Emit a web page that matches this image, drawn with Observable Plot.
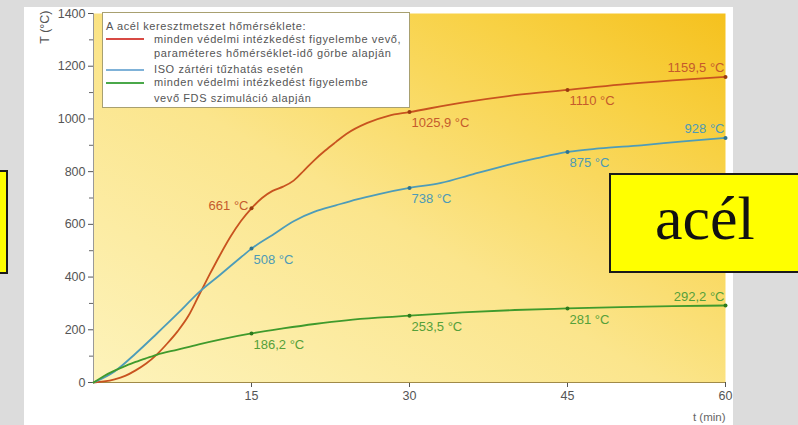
<!DOCTYPE html>
<html><head><meta charset="utf-8">
<script src="https://cdn.jsdelivr.net/npm/d3@7"></script>
<script src="https://cdn.jsdelivr.net/npm/@observablehq/plot@0.6"></script>
<style>
html,body{margin:0;padding:0;background:#dcdcdc;width:798px;height:425px;overflow:hidden;font-family:"Liberation Sans",Arial,sans-serif}
#panel{position:absolute;left:24px;top:7px;width:709px;height:418px;background:#fff}
#chart{position:absolute;left:0;top:0}
#legend{position:absolute;left:102px;top:12px;width:308px;height:96px;background:#fff;border:1px solid #a8a070;box-sizing:border-box;color:#555;font-size:11px;letter-spacing:0.6px}
#legend .t{position:absolute;left:51px;white-space:nowrap;line-height:14px}
#legend .sw{position:absolute;left:3px;width:38px;height:0;border-top:2px solid}
.box{position:absolute;background:#ffff00;border:2px solid #1a1a1a;box-sizing:border-box}
#acel{left:609px;top:173px;width:200px;height:100px;font-family:"Liberation Serif","Times New Roman",serif;font-size:62px;color:#111}
#acel span{position:absolute;left:44px;top:8px}
#leftbox{left:-4px;top:170px;width:12px;height:104px}
</style></head>
<body>
<div id="panel"></div>
<div id="chart"></div>
<div id="legend">
  <div class="t" style="left:3px;top:6px">A acél keresztmetszet hőmérséklete:</div>
  <div class="sw" style="top:25px;border-color:#d84a44"></div>
  <div class="t" style="top:19px">minden védelmi intézkedést figyelembe vevő,</div>
  <div class="t" style="top:33px">paraméteres hőmérséklet-idő görbe alapján</div>
  <div class="sw" style="top:56px;border-color:#7fb2d8"></div>
  <div class="t" style="top:49px">ISO zártéri tűzhatás esetén</div>
  <div class="sw" style="top:69px;border-color:#4aa84a"></div>
  <div class="t" style="top:62px">minden védelmi intézkedést figyelembe</div>
  <div class="t" style="top:78px">vevő FDS szimuláció alapján</div>
</div>
<div class="box" id="leftbox"></div>
<div class="box" id="acel"><span>acél</span></div>
<script>
// Parametric curve (red)
const redT = [0,1,2,3,4,5,6,7,8,9,10,11,12,13,14,15,16,17,18,19,20,21,22,23,24,26,28,30,35,40,45,50,55,60];
const redV = [0,4,12,25,46,72,106,148,195,252,330,408,483,553,613,661,700,727,743,766,805,845,880,912,943,985,1012,1025.9,1062,1090,1110,1130,1146,1159.5];
// ISO curve (blue)
const blueT = [0,2,4,6,8,10,12,14,15,17,19,21,23,25,27,30,33,36,39,42,45,48,52,56,60];
const blueV = [0,42,110,185,262,342,408,475,508,560,612,648,672,695,714,738,757,790,822,850,875,888,900,915,928];
// FDS simulation (green)
const greenT = [0,1,2,3,4,5,6,8,10,12,15,18,21,24,27,30,35,40,45,50,55,60];
const greenV = [0,25,45,62,78,92,105,125,145,163,186.2,205,222,236,246,253.5,266,275,281,286,289.5,292.2];
// Marked values
const markT = [15,30,45,60];
const redMarks = [661,1025.9,1110,1159.5];
const blueMarks = [508,738,875,928];
const greenMarks = [186.2,253.5,281,292.2];
const yTicks = [0,200,400,600,800,1000,1200,1400];
const yMinor = [100,300,500,700,900,1100,1300];
const xTicks = [15,30,45,60];

const series = [
  {T: redT, V: redV, marks: redMarks, stroke: "#c8531f", dot: "#9a3a10", text: "#c55a2c"},
  {T: blueT, V: blueV, marks: blueMarks, stroke: "#4d9cb9", dot: "#2e7390", text: "#4d9ab6"},
  {T: greenT, V: greenV, marks: greenMarks, stroke: "#3f9a2c", dot: "#2c7a1c", text: "#55a03a"}
];
const fmt = v => String(v).replace(".", ",") + " °C";

const marks = [
  Plot.frame({fill: "url(#bggrad)", stroke: null}),
  Plot.axisY(yTicks, {tickSize: 5, tickPadding: 3, fontSize: 12.5, color: "#555", label: null, tickFormat: d => String(d)}),
  Plot.axisY(yMinor, {tickSize: 4, tickFormat: () => "", color: "#666", label: null}),
  Plot.axisX(xTicks, {tickSize: 5, tickPadding: 4, fontSize: 12.5, color: "#555", label: null, tickFormat: d => String(d)}),
  Plot.ruleX([0], {stroke: "#999"}),
  Plot.ruleY([0], {stroke: "#a08a48", strokeWidth: 1.2}),
  Plot.text(["T (°C)"], {frameAnchor: "top-left", rotate: -90, dx: -53, dy: -3, textAnchor: "end", fontSize: 12.5, fill: "#555"}),
  Plot.text(["t (min)"], {frameAnchor: "bottom-right", dx: 0, dy: 38, textAnchor: "end", fontSize: 11.5, fill: "#666"})
];
for (const s of series) {
  const pts = s.T.map((t, i) => ({t, v: s.V[i]}));
  const mk = markT.map((t, i) => ({t, v: s.marks[i], label: fmt(s.marks[i])}));
  marks.push(Plot.line(pts, {x: "t", y: "v", stroke: s.stroke, strokeWidth: 1.8, curve: "monotone-x"}));
  marks.push(Plot.dot(mk, {x: "t", y: "v", r: 2, fill: s.dot}));
  const below = mk.filter(d => d.t < 60 && !(s === series[0] && d.t === 15));
  marks.push(Plot.text(below, {x: "t", y: "v", text: "label", textAnchor: "start", dx: 2, dy: 11, fill: s.text, fontSize: 13, style: "letter-spacing:0.8px"}));
  marks.push(Plot.text(mk.filter(d => d.t === 60), {x: "t", y: "v", text: "label", textAnchor: "end", dx: -1, dy: -9, fill: s.text, fontSize: 13, style: "letter-spacing:0.8px"}));
  if (s === series[0]) {
    marks.push(Plot.text(mk.filter(d => d.t === 15), {x: "t", y: "v", text: "label", textAnchor: "end", dx: -3, dy: -2, fill: s.text, fontSize: 13, style: "letter-spacing:0.8px"}));
  }
}

const plot = Plot.plot({
  width: 798, height: 425,
  marginLeft: 93, marginRight: 73, marginTop: 13, marginBottom: 43,
  style: {background: "transparent", fontFamily: "'Liberation Sans', Arial, sans-serif", overflow: "visible"},
  x: {domain: [0, 60]},
  y: {domain: [0, 1400]},
  marks
});
d3.select(plot).insert("defs", ":first-child").html(
  `<linearGradient id="bggrad" x1="0" y1="1" x2="1" y2="0">
     <stop offset="0" stop-color="#fdf3bb"/>
     <stop offset="0.45" stop-color="#fbe58c"/>
     <stop offset="0.8" stop-color="#f8d144"/>
     <stop offset="1" stop-color="#f5c11e"/>
   </linearGradient>`);
document.getElementById("chart").appendChild(plot);
</script>
</body></html>
